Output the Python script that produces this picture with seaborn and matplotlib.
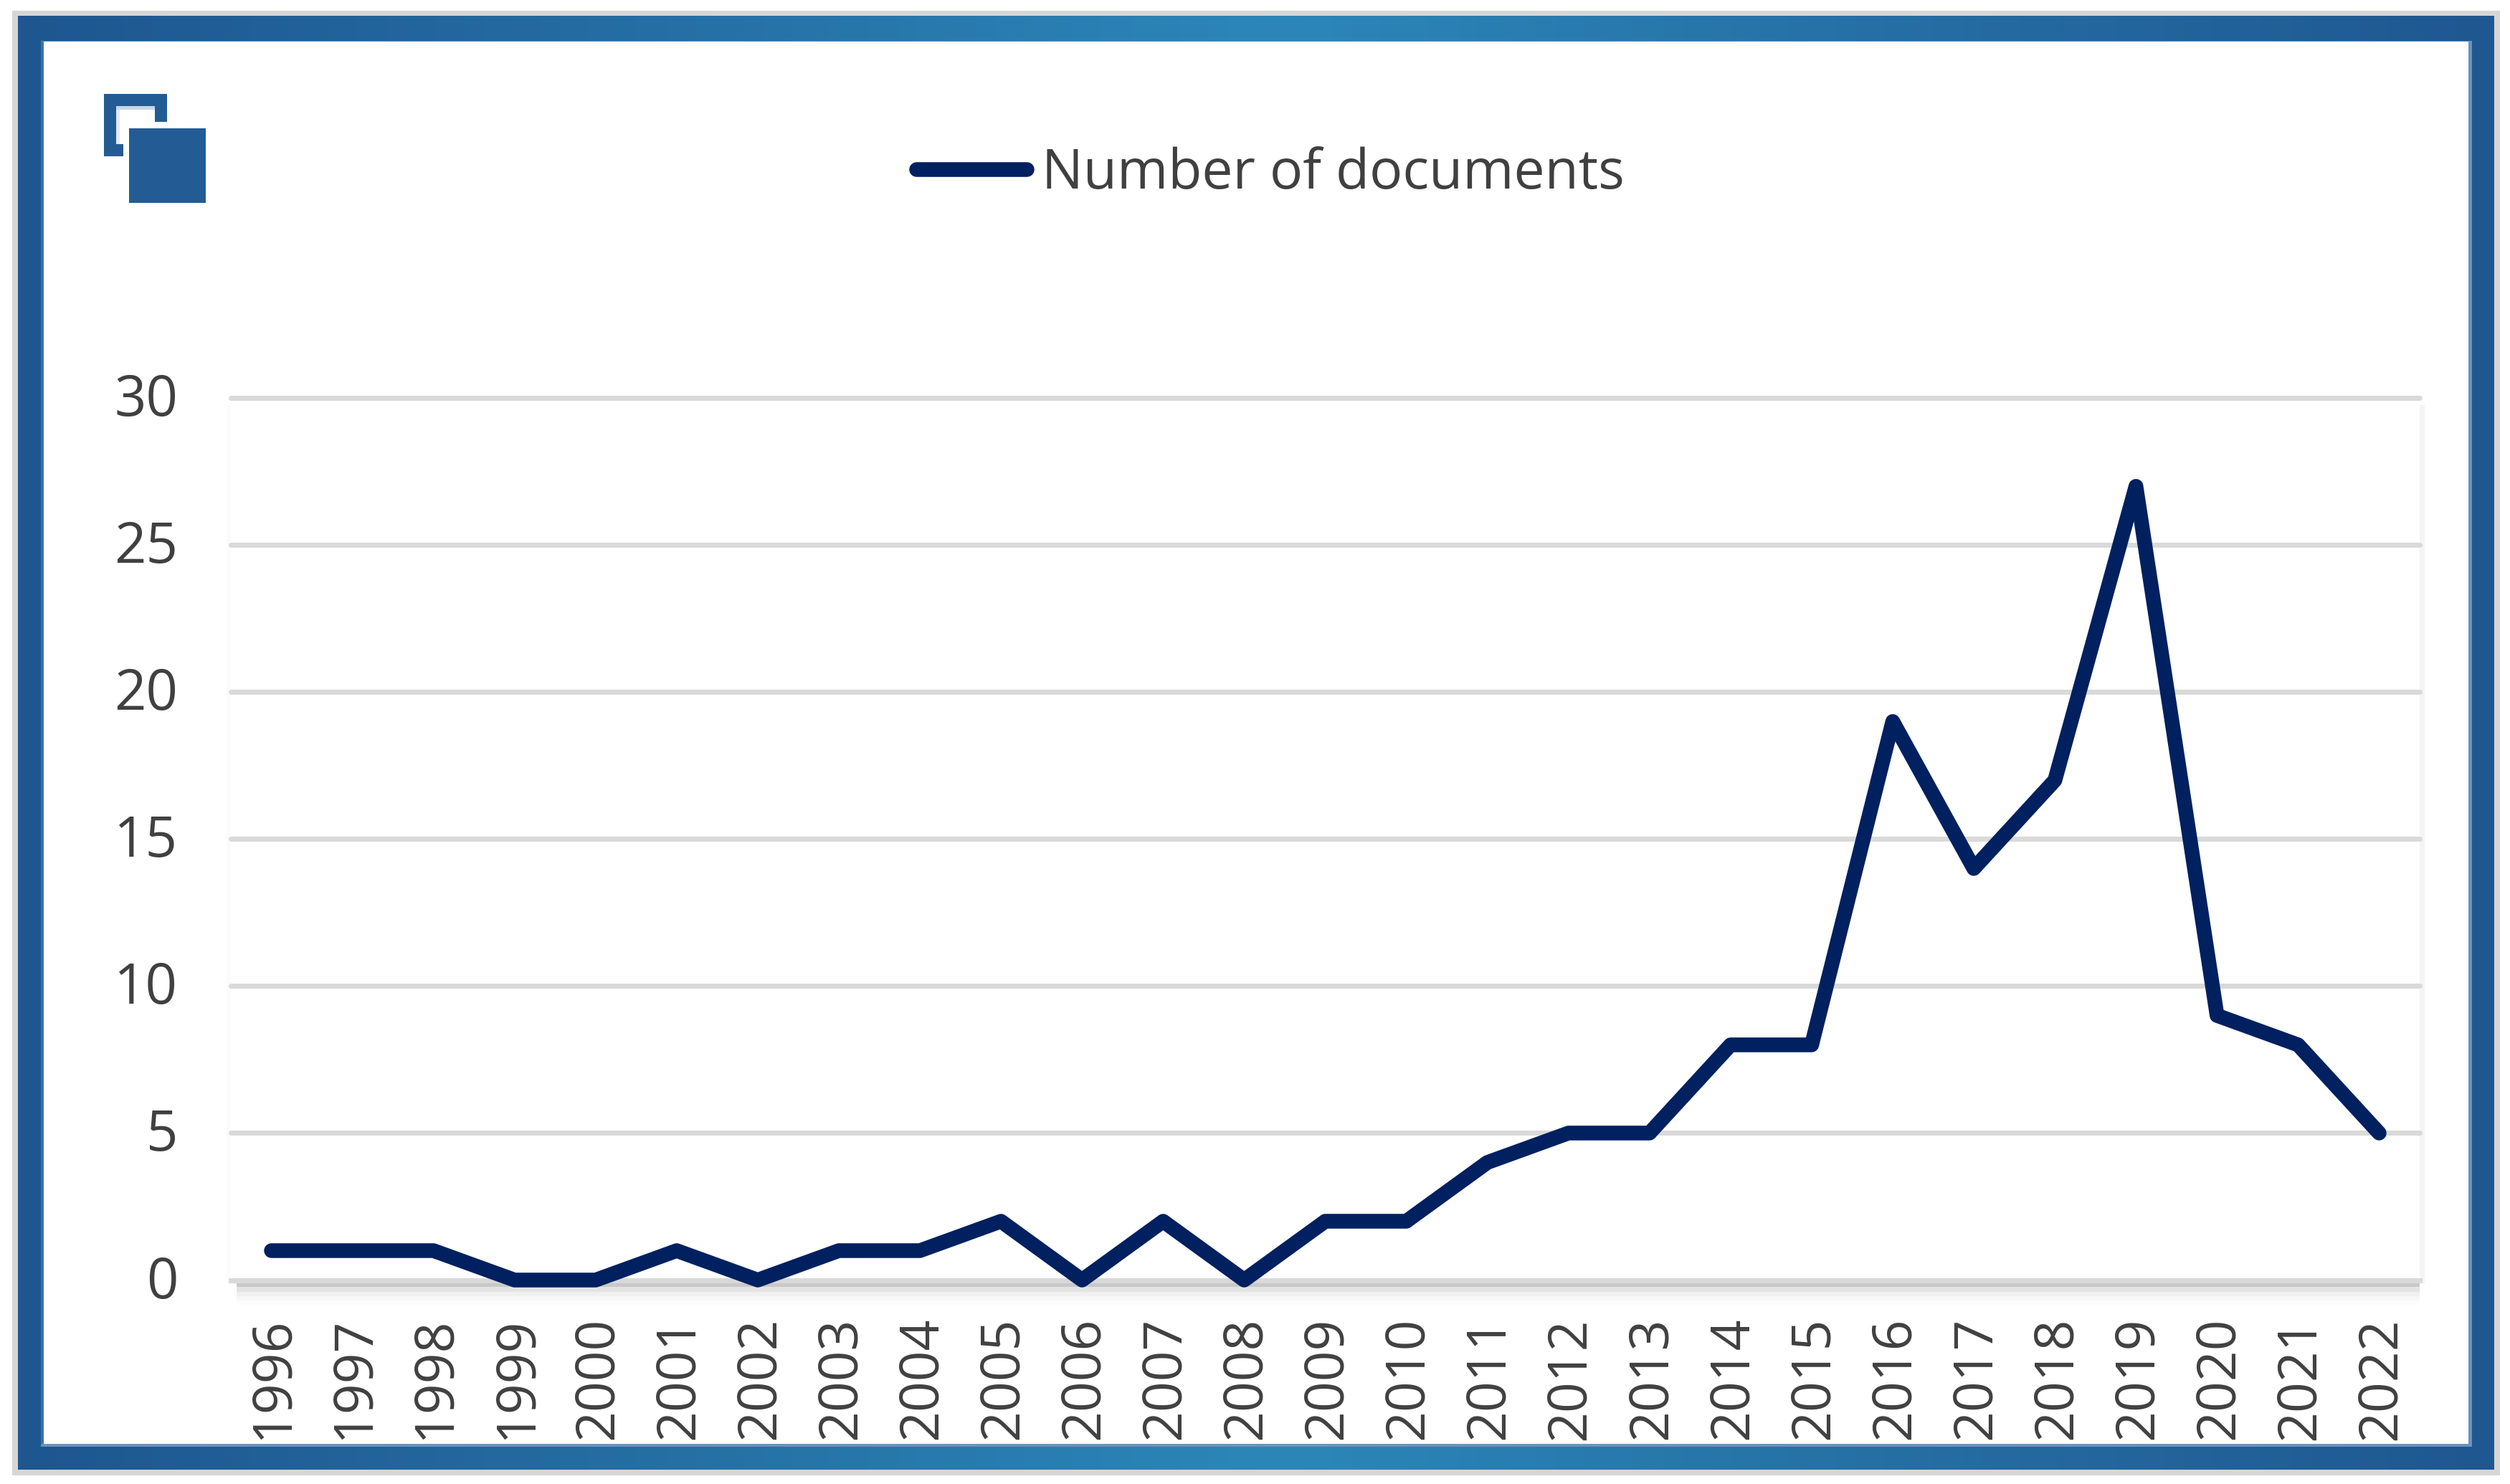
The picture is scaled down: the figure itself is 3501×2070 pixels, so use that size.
import numpy as np
import pandas as pd
import matplotlib
matplotlib.use("Agg")
import matplotlib.pyplot as plt
from matplotlib.patches import Rectangle
from matplotlib.colors import LinearSegmentedColormap
from matplotlib.transforms import ScaledTranslation
import seaborn as sns

years = ["1996","1997","1998","1999","2000","2001","2002","2003","2004","2005","2006","2007","2008","2009",
         "2010","2011","2012","2013","2014","2015","2016","2017","2018","2019","2020","2021","2022"]
documents = [1,1,1,0,0,1,0,1,1,2,0,2,0,2,2,4,5,5,8,8,19,14,17,27,9,8,5]
y_ticks = [0,5,10,15,20,25,30]
series_name = "Number of documents"

W, H = 3501, 2070
DPI = 100
sns.set_theme(style="white")
plt.rcParams["font.family"] = ["Open Sans", "DejaVu Sans"]
TXT = "#404040"
LINE = "#002060"
GRID = "#D9D9D9"
LOGO = "#235C94"

fig = plt.figure(figsize=(W/DPI, H/DPI), dpi=DPI, facecolor="white")

# decorative frame in pixel coordinates
bg = fig.add_axes([0, 0, 1, 1], zorder=0)
bg.set_xlim(0, W); bg.set_ylim(H, 0); bg.axis("off")
def box(x0, y0, x1, y1, c, z=1):
    bg.add_patch(Rectangle((x0, y0), x1-x0, y1-y0, facecolor=c, edgecolor="none", zorder=z))
box(17, 15, 3487, 2058, "#D6D6D6", 1)
cmap = LinearSegmentedColormap.from_list("frame", [(0, "#1E5690"), (0.51, "#2C87B8"), (1, "#1F5791")])
bg.imshow(np.linspace(0, 1, 512).reshape(1, -1), extent=(25, 3479, 2050, 22), cmap=cmap,
          aspect="auto", zorder=2)
bg.set_xlim(0, W); bg.set_ylim(H, 0)
# light inner edge of the frame
box(57, 57, 3448, 2018, "white", 3)
box(57, 57, 61, 2018, "#3F72A3", 3)
box(57, 57, 3448, 58, "#5C8AB5", 3)
box(3443, 57, 3448, 2018, "#6A93BC", 3)
box(57, 2014, 3448, 2018, "#6A93BC", 3)
# panel shadow
box(316, 565, 322, 1785, "#FBFBFB", 5)
box(3375, 565, 3382, 1790, "#F4F4F4", 5)
for y0, y1, c in [(1814, 1820, "#FCFCFC"), (1808, 1814, "#F7F7F7"), (1802, 1808, "#F0F0F0"),
                  (1795, 1802, "#E3E3E3"), (1789, 1795, "#C9C9C9")]:
    box(330, y0, 3375, y1, c, 5)
# logo
box(145, 131, 233, 148, LOGO, 6)
box(145, 131, 162, 218, LOGO, 6)
box(145, 201, 172, 218, LOGO, 6)
box(216, 131, 233, 170, LOGO, 6)
box(162, 148, 216, 153, "#C9D6E5", 6)
box(162, 153, 167, 201, "#E2E9F2", 6)
box(180, 179, 287, 283, LOGO, 6)

# chart axes
L, R, T, B = 322, 3375, 555.3, 1785.5
ax = fig.add_axes([L/W, 1-B/H, (R-L)/W, (B-T)/H], zorder=2)
ax.patch.set_alpha(0)
df = pd.DataFrame({"Year": years, "Documents": documents})
sns.lineplot(data=df, x="Year", y="Documents", color=LINE, linewidth=14.8, label=series_name, ax=ax,
             solid_capstyle="round", solid_joinstyle="round", errorbar=None, sort=False, zorder=5, clip_on=False)
ax.set_xlim(-0.5, len(years)-0.5)
ax.set_ylim(0, 30)
ax.set_yticks(y_ticks)
ax.set_xlabel(""); ax.set_ylabel("")
ax.grid(axis="y", color=GRID, linewidth=5.04, zorder=1)
ax.set_axisbelow(True)
ax.grid(axis="x", visible=False)
for gl in ax.get_ygridlines():
    gl.set_clip_on(False)
for s in ["top", "left", "right"]:
    ax.spines[s].set_visible(False)
ax.spines["bottom"].set_color(GRID)
ax.spines["bottom"].set_linewidth(5.04)
ax.tick_params(axis="x", length=0, pad=37, labelsize=54, labelcolor=TXT, labelrotation=90)
ax.tick_params(axis="y", length=0, pad=53, labelsize=56, labelcolor=TXT)
for lab in ax.get_xticklabels():
    lab.set_transform(lab.get_transform() + ScaledTranslation(3/DPI, 0, fig.dpi_scale_trans))
for lab in ax.get_yticklabels():
    lab.set_transform(lab.get_transform() + ScaledTranslation(0, 5/DPI, fig.dpi_scale_trans))

leg = ax.legend(loc="center left", bbox_to_anchor=(1278/W, 1-243/H), bbox_transform=fig.transFigure,
                frameon=False, fontsize=55.4, handlelength=2.0, handletextpad=0.27,
                borderpad=0, borderaxespad=0)
for t in leg.get_texts():
    t.set_color(TXT)
for h in leg.get_lines():
    h.set_solid_capstyle("round")
    h.set_linewidth(14.8)

fig.savefig("out.png", dpi=DPI, facecolor="white")
